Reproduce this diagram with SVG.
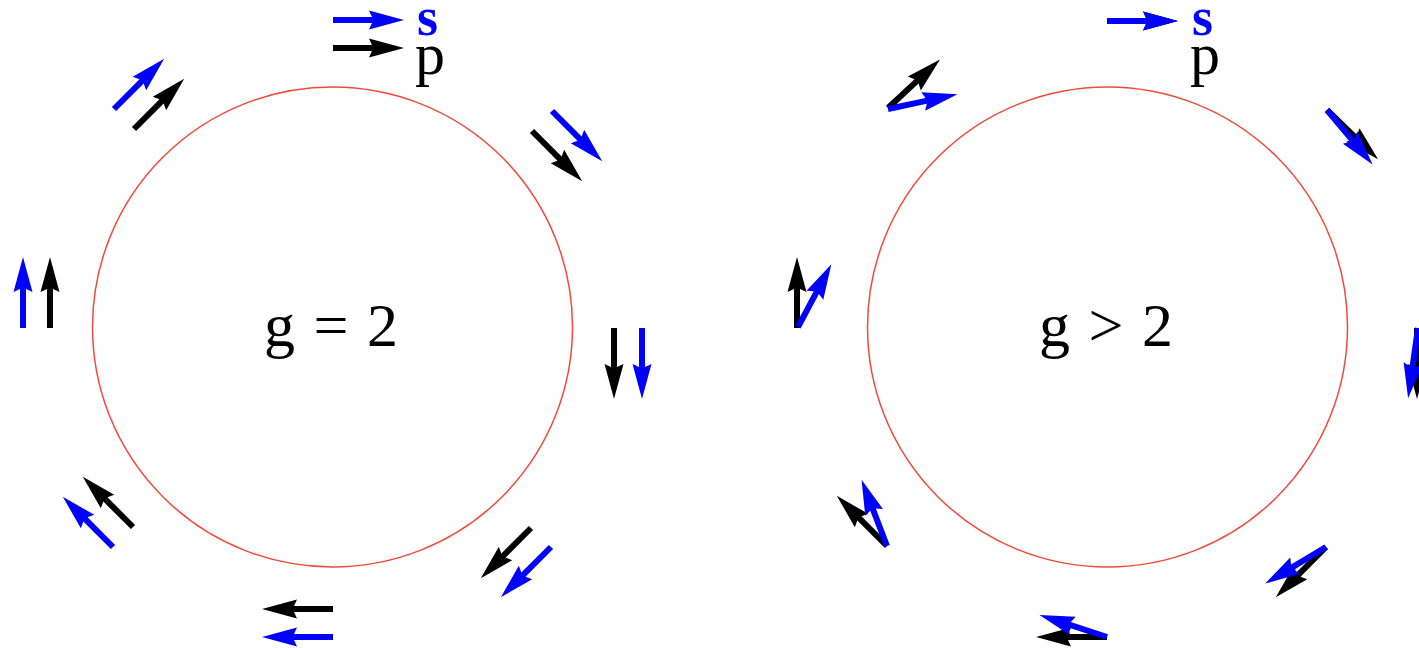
<svg xmlns="http://www.w3.org/2000/svg" xmlns:xlink="http://www.w3.org/1999/xlink" width="1419" height="648" viewBox="0 0 1419 648">
<style>
.ring{fill:none;stroke:#f04a3c;stroke-width:1.5}
.k{fill:#000}
.b{fill:#0000ff}
.lbl{font-family:"Liberation Serif","Times New Roman",serif;font-size:62px;fill:#000;word-spacing:3px}
.s{font-family:"Liberation Serif","Times New Roman",serif;font-size:54px;font-weight:bold;fill:#0000ff}
.p{font-family:"Liberation Serif","Times New Roman",serif;font-size:60px;fill:#000}
</style>
<defs>
<path id="a" d="M0,-3 L39,-3 L36,-9.5 L71,0 L36,9.5 L39,3 L0,3 Z"/>
</defs>
<rect width="1419" height="648" fill="#fff"/>
<g id="left-diagram">
<circle class="ring" cx="332.5" cy="327" r="240"/>
<text class="lbl" x="331" y="346" text-anchor="middle">g = 2</text>
<text class="s" x="417" y="35">s</text>
<text class="p" x="415" y="74">p</text>
</g>
<g id="right-diagram">
<circle class="ring" cx="1107.5" cy="327" r="240"/>
<text class="lbl" x="1106" y="346" text-anchor="middle">g &gt; 2</text>
<text class="s" x="1192" y="35">s</text>
<text class="p" x="1190" y="74">p</text>
</g>
<g id="connectors">
<g id="left-arrows">
<use href="#a" class="k" transform="translate(333,48)"/>
<use href="#a" class="b" transform="translate(333,20)"/>
<use href="#a" class="k" transform="translate(134,129) rotate(-45)"/>
<use href="#a" class="b" transform="translate(114,109) rotate(-45)"/>
<use href="#a" class="k" transform="translate(532,131) rotate(45)"/>
<use href="#a" class="b" transform="translate(552,111) rotate(45)"/>
<use href="#a" class="k" transform="translate(50,328) rotate(-90)"/>
<use href="#a" class="b" transform="translate(23,328) rotate(-90)"/>
<use href="#a" class="k" transform="translate(614,328) rotate(90)"/>
<use href="#a" class="b" transform="translate(642,328) rotate(90)"/>
<use href="#a" class="k" transform="translate(133,527) rotate(-135)"/>
<use href="#a" class="b" transform="translate(113,547) rotate(-135)"/>
<use href="#a" class="k" transform="translate(333,609) rotate(180)"/>
<use href="#a" class="b" transform="translate(333,637) rotate(180)"/>
<use href="#a" class="k" transform="translate(531,528) rotate(135)"/>
<use href="#a" class="b" transform="translate(551,547) rotate(135)"/>
</g>
<g id="right-arrows">
<use href="#a" class="k" transform="translate(1107,21)"/>
<use href="#a" class="b" transform="translate(1107,21)"/>
<use href="#a" class="k" transform="translate(888,108) rotate(-43)"/>
<use href="#a" class="b" transform="translate(888,109) rotate(-12)"/>
<use href="#a" class="k" transform="translate(1327,110) rotate(44)"/>
<use href="#a" class="b" transform="translate(1327,110) rotate(50)"/>
<use href="#a" class="k" transform="translate(797,328) rotate(-90)"/>
<use href="#a" class="b" transform="translate(798,327) rotate(-62)"/>
<use href="#a" class="k" transform="translate(1417,328) rotate(90)"/>
<use href="#a" class="b" transform="translate(1418,328) rotate(98)"/>
<use href="#a" class="k" transform="translate(887,546) rotate(-135)"/>
<use href="#a" class="b" transform="translate(887,546) rotate(-111)"/>
<use href="#a" class="k" transform="translate(1107,637) rotate(180)"/>
<use href="#a" class="b" transform="translate(1107,637) rotate(-162)"/>
<use href="#a" class="k" transform="translate(1326,547) rotate(135)"/>
<use href="#a" class="b" transform="translate(1326,547) rotate(149)"/>
</g>
</g>
</svg>
